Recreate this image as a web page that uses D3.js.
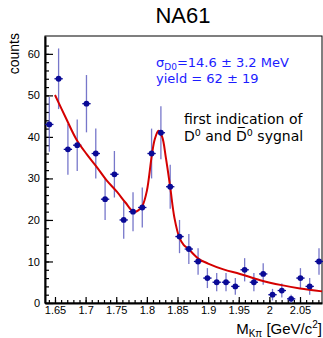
<html>
<head>
  <script src="https://d3js.org/d3.v7.min.js"></script>
  <style>
    body {
      background-color: white;
      margin: 0;
      padding: 0;
      overflow: hidden;
    }
    svg {
      position: absolute;
      left: 0;
      top: 0;
    }
    .tick text {
      font-family: "Liberation Sans", Arial, sans-serif;
      font-size: 11px;
      fill: black;
    }
  </style>
</head>
<body>
  <svg width="323" height="338"></svg>

  <script>
    // bin centres of the invariant-mass histogram [GeV/c^2]
    const mass = [
      1.6407, 1.6559, 1.6711, 1.6863, 1.7014, 1.7166, 1.7318, 1.7470, 1.7622, 1.7774,
      1.7925, 1.8077, 1.8229, 1.8381, 1.8533, 1.8685, 1.8836, 1.8988, 1.9140, 1.9292,
      1.9444, 1.9596, 1.9747, 1.9899, 2.0051, 2.0203, 2.0355, 2.0507, 2.0658, 2.0810
    ];

    // entries per bin
    const counts = [
      43, 54, 37, 38, 48, 36, 25, 31, 20, 22,
      23, 36, 41, 28, 16, 13, 10, 6, 5, 5,
      4, 8, 5, 7, 2, 3, 1, 6, 4, 10
    ];

    // vertical error per bin
    const errors = [
      6.6, 7.3, 6.1, 6.2, 6.9, 6.0, 5.0, 5.6, 4.5, 4.7,
      4.8, 6.0, 6.4, 5.3, 4.0, 3.6, 3.2, 2.4, 2.2, 2.2,
      2.0, 2.8, 2.2, 2.6, 1.4, 1.7, 1.0, 2.4, 2.0, 3.2
    ];

    // fit curve
    const fitX = [
      1.650, 1.668, 1.685, 1.702, 1.718, 1.734, 1.751, 1.765, 1.778, 1.786,
      1.793, 1.800, 1.808, 1.813, 1.819, 1.825, 1.831, 1.838, 1.845, 1.853,
      1.860, 1.868, 1.884, 1.900, 1.925, 1.952, 1.985, 2.020, 2.050, 2.086
    ];
    const fitY = [
      50.1, 44.5, 39.4, 35.8, 32.8, 29.6, 26.8, 24.2, 22.0, 22.3,
      23.5, 27.0, 35.5, 39.5, 41.5, 40.0, 35.0, 28.0, 20.5, 15.8,
      14.0, 13.0, 10.7, 9.5, 8.1, 7.0, 5.5, 4.3, 3.5, 2.8
    ];

    const xTicks = [1.65, 1.7, 1.75, 1.8, 1.85, 1.9, 1.95, 2.0, 2.05];
    const yTicks = [0, 10, 20, 30, 40, 50, 60];

    const svg = d3.select("svg"),
          margin = { top: 36, right: 1, bottom: 35, left: 45 },
          width = +svg.attr("width") - margin.left - margin.right,
          height = +svg.attr("height") - margin.top - margin.bottom,
          g = svg.append("g").attr("transform", "translate(" + margin.left + "," + margin.top + ")");

    const xScale = d3.scaleLinear()
        .domain([1.6337, 2.0859])
        .range([0, width]);

    const yScale = d3.scaleLinear()
        .domain([0, 64.3])
        .range([height, 0]);

    const fmt = d => String(+d.toFixed(2));

    // frame
    g.append("rect")
      .attr("width", width)
      .attr("height", height)
      .attr("fill", "none")
      .attr("stroke", "black")
      .attr("stroke-width", 1);

    // minor ticks
    g.append("g")
      .attr("transform", "translate(0," + height + ")")
      .call(d3.axisBottom(xScale).tickValues(d3.range(1.64, 2.081, 0.01)).tickSize(-3).tickFormat(""))
      .call(a => a.select(".domain").remove());

    g.append("g")
      .call(d3.axisLeft(yScale).tickValues(d3.range(0, 64, 2)).tickSize(-4).tickFormat(""))
      .call(a => a.select(".domain").remove());

    // x axis
    g.append("g")
      .attr("transform", "translate(0," + height + ")")
      .call(d3.axisBottom(xScale).tickValues(xTicks).tickSize(-6).tickSizeOuter(0).tickPadding(3).tickFormat(fmt))
      .call(a => a.select(".domain").attr("stroke-width", 2));

    // y axis
    g.append("g")
      .call(d3.axisLeft(yScale).tickValues(yTicks).tickSize(-8).tickSizeOuter(0).tickPadding(5))
      .call(a => a.select(".domain").attr("stroke-width", 2));

    g.selectAll(".tick line").attr("stroke-width", 1.2);

    const points = mass.map((m, i) => ({ m: m, c: counts[i], e: errors[i] }));
    const xErr = 0.0068;

    // vertical error bars
    g.selectAll(".ebar")
      .data(points)
      .enter().append("line")
      .attr("class", "ebar")
      .attr("x1", d => xScale(d.m))
      .attr("x2", d => xScale(d.m))
      .attr("y1", d => yScale(Math.max(0, d.c - d.e)))
      .attr("y2", d => yScale(d.c + d.e))
      .attr("stroke", "#4a4ab8")
      .attr("stroke-opacity", 0.75)
      .attr("stroke-width", 1.3);

    // horizontal bars
    g.selectAll(".hbar")
      .data(points)
      .enter().append("line")
      .attr("class", "hbar")
      .attr("x1", d => xScale(d.m - xErr))
      .attr("x2", d => xScale(d.m + xErr))
      .attr("y1", d => yScale(d.c))
      .attr("y2", d => yScale(d.c))
      .attr("stroke", "#0a0a96")
      .attr("stroke-width", 1.3);

    // fit
    const line = d3.line()
        .x(d => xScale(d[0]))
        .y(d => yScale(d[1]))
        .curve(d3.curveCatmullRom.alpha(0.5));

    g.append("path")
      .datum(fitX.map((x, i) => [x, fitY[i]]))
      .attr("fill", "none")
      .attr("stroke", "#d40000")
      .attr("stroke-width", 2)
      .attr("d", line);

    // markers
    g.selectAll(".pt")
      .data(points)
      .enter().append("circle")
      .attr("class", "pt")
      .attr("cx", d => xScale(d.m))
      .attr("cy", d => yScale(d.c))
      .attr("r", 2.9)
      .attr("fill", "#0a0a96");

    // title
    svg.append("text")
      .attr("x", 183)
      .attr("y", 23)
      .attr("text-anchor", "middle")
      .style("font-family", "'Liberation Sans', Arial, sans-serif")
      .style("font-size", "22px")
      .text("NA61");

    // axis titles
    svg.append("text")
      .attr("transform", "translate(19,33) rotate(-90)")
      .attr("text-anchor", "end")
      .style("font-family", "'Liberation Sans', Arial, sans-serif")
      .style("font-size", "14px")
      .text("counts");

    const xt = svg.append("text")
      .attr("x", 322)
      .attr("y", 333.5)
      .attr("text-anchor", "end")
      .style("font-family", "'Liberation Sans', Arial, sans-serif")
      .style("font-size", "15px");
    xt.append("tspan").text("M");
    xt.append("tspan").attr("dy", 3).style("font-size", "10px").text("K\u03c0");
    xt.append("tspan").attr("dy", -3).text(" [GeV/c");
    xt.append("tspan").attr("dy", -6).style("font-size", "10px").text("2");
    xt.append("tspan").attr("dy", 6).text("]");

    // fit results
    const blue = svg.append("g")
      .style("font-family", "'DejaVu Sans', sans-serif")
      .style("font-size", "13px")
      .attr("fill", "#1c1cff");
    const s = blue.append("text").attr("x", 156).attr("y", 67);
    s.append("tspan").text("\u03c3");
    s.append("tspan").attr("dy", 3).style("font-size", "9px").text("D0");
    s.append("tspan").attr("dy", -3).text("=14.6 \u00b1 3.2 MeV");
    blue.append("text").attr("x", 156).attr("y", 83).text("yield = 62 \u00b1 19");

    // annotation
    const note = svg.append("g")
      .style("font-family", "'DejaVu Sans', sans-serif")
      .style("font-size", "14px")
      .attr("fill", "black");
    note.append("text").attr("x", 184).attr("y", 124).text("first indication of");
    const n2 = note.append("text").attr("x", 184).attr("y", 141);
    n2.append("tspan").text("D");
    n2.append("tspan").attr("dy", -5).style("font-size", "9.5px").text("0");
    n2.append("tspan").attr("dy", 5).text(" and D\u0305");
    n2.append("tspan").attr("dy", -5).style("font-size", "9.5px").text("0");
    n2.append("tspan").attr("dy", 5).text(" sygnal");
  </script>
</body>
</html>
